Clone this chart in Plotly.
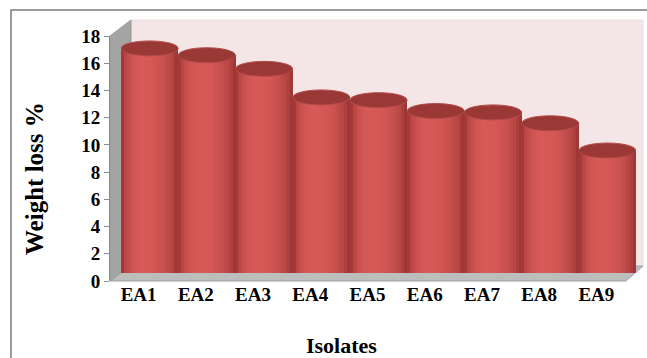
import plotly.graph_objects as go

# Weight loss (%) caused by each isolate
isolates = ["EA1", "EA2", "EA3", "EA4", "EA5", "EA6", "EA7", "EA8", "EA9"]
weight_loss = [16.5, 16.0, 15.0, 12.9, 12.7, 11.9, 11.8, 11.0, 9.0]
y_ticks = [0, 2, 4, 6, 8, 10, 12, 14, 16, 18]

W, H = 647, 358
ML, MR, MT, MB = 110, 5, 20, 77
PW, PH = W - ML - MR, H - MT - MB
FRONT_W, FRONT_H = 515, 245      # front plane (axis) size in px
DX, DY = 11, 8                   # depth offset of the cylinder row

def px(x):
    return (x - ML) / PW

def py(y):
    return (H - MB - y) / PH

FONT = "Liberation Serif"
fig = go.Figure()

# invisible trace that carries the category axis with the tick labels
fig.add_trace(go.Scatter(x=isolates, y=weight_loss, mode="markers",
                         marker=dict(opacity=0), hoverinfo="skip",
                         showlegend=False, xaxis="x", yaxis="y"))

# cylinders: vertical strips shaded like a lit cylinder
N = 20
bar_w = 1.0
ell_h = 0.55          # half-height of the end ellipses (data units)
dark = (140, 44, 42)
light = (216, 90, 88)

def shade(u):
    peak = -0.25
    span = 0.75 if u < peak else 1.25
    t = 1 - ((u - peak) / span) ** 2
    t = max(0.0, min(1.0, t)) ** 0.55
    return "rgb(%d,%d,%d)" % tuple(int(d + (l - d) * t) for d, l in zip(dark, light))

for k in range(N):
    u = -1 + (2 * k + 1) / N
    sag = ell_h * (1 - u * u) ** 0.5
    fig.add_trace(go.Bar(
        x=isolates, y=[v + sag for v in weight_loss], base=-sag,
        width=bar_w / N * 1.05, offset=-bar_w / 2 + k * bar_w / N,
        marker=dict(color=shade(u), line=dict(width=0)),
        hoverinfo="skip", showlegend=False, xaxis="x2", yaxis="y2"))

shapes = []
# back wall, left wall and floor of the 3D box
shapes.append(dict(type="rect", xref="paper", yref="paper", layer="below",
                   x0=px(131), x1=px(643), y0=py(266), y1=py(20),
                   fillcolor="#f4e6e7", line=dict(color="#ece0e0", width=1)))
shapes.append(dict(type="path", xref="paper", yref="paper", layer="below",
                   path="M %f,%f L %f,%f L %f,%f L %f,%f Z" % (
                       px(110), py(36), px(131), py(20), px(131), py(266), px(110), py(281)),
                   fillcolor="#a4a4a4", line=dict(color="#9a9a9a", width=1)))
shapes.append(dict(type="path", xref="paper", yref="paper", layer="below",
                   path="M %f,%f L %f,%f L %f,%f L %f,%f Z" % (
                       px(110), py(281), px(131), py(266), px(643), py(266), px(626), py(281)),
                   fillcolor="#bdbdbd", line=dict(color="#a0a0a0", width=1)))

# top ellipses of the cylinders
for i, v in enumerate(weight_loss):
    shapes.append(dict(type="circle", xref="x2", yref="y2", layer="above",
                       x0=i - bar_w / 2, x1=i + bar_w / 2, y0=v - ell_h, y1=v + ell_h,
                       fillcolor="#9a3836", line=dict(color="#b44c4a", width=1)))

# outer frame
shapes.append(dict(type="rect", xref="paper", yref="paper", layer="above",
                   x0=px(11), x1=px(700), y0=py(400), y1=py(10),
                   line=dict(color="#7a7a7a", width=1.5), fillcolor="rgba(0,0,0,0)"))

fig.update_layout(
    width=W, height=H,
    margin=dict(l=ML, r=MR, t=MT, b=MB),
    paper_bgcolor="white", plot_bgcolor="rgba(0,0,0,0)",
    barmode="overlay", bargap=0,
    shapes=shapes,
    xaxis=dict(domain=[0, FRONT_W / PW], range=[-0.5, 8.5], showgrid=False,
               showline=False, ticks="", zeroline=False,
               tickfont=dict(family=FONT, size=19, color="black", weight="bold"),
               categoryorder="array", categoryarray=isolates),
    yaxis=dict(domain=[0, FRONT_H / PH], range=[0, 18], tickvals=y_ticks,
               showgrid=False, zeroline=False, showline=True,
               linecolor="#8c8c8c", linewidth=1, ticks="outside", ticklen=5,
               tickcolor="#8c8c8c",
               tickfont=dict(family=FONT, size=19, color="black", weight="bold")),
    xaxis2=dict(domain=[DX / PW, (FRONT_W + DX) / PW], range=[-0.5, 8.5],
                visible=False, anchor="y2",
                categoryorder="array", categoryarray=isolates),
    yaxis2=dict(domain=[DY / PH, (FRONT_H + DY) / PH], range=[0, 18],
                visible=False, anchor="x2"),
    annotations=[
        dict(text="<b>Weight loss %</b>", xref="paper", yref="paper",
             x=px(34), y=py(179), xanchor="center", yanchor="middle",
             textangle=-90, showarrow=False,
             font=dict(family=FONT, size=25, color="black")),
        dict(text="<b>Isolates</b>", xref="paper", yref="paper",
             x=px(341), y=py(346), xanchor="center", yanchor="middle",
             showarrow=False,
             font=dict(family=FONT, size=22, color="black")),
    ],
)

fig.write_html("out.html")
